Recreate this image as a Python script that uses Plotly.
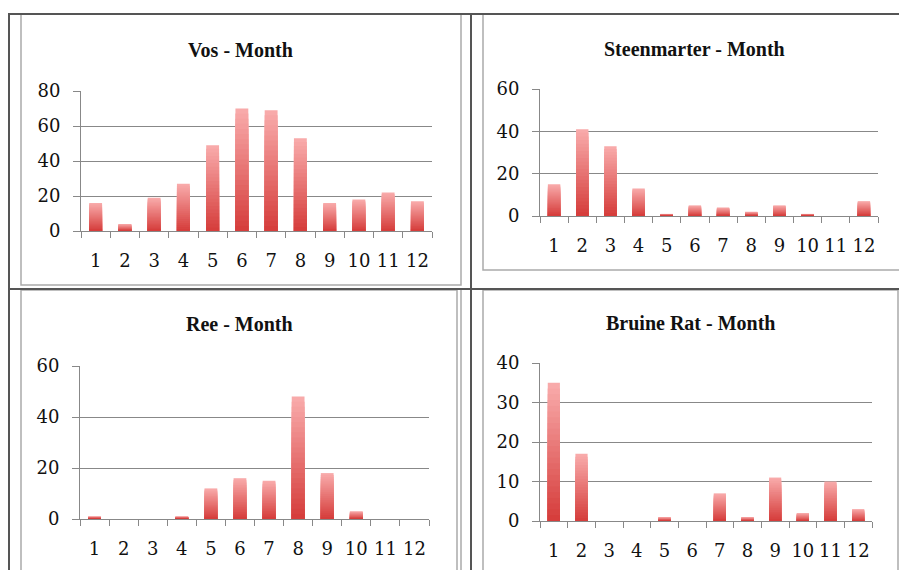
import plotly.graph_objects as go

months = [str(m) for m in range(1, 13)]

vos = [16, 4, 19, 27, 49, 70, 69, 53, 16, 18, 22, 17]
steenmarter = [15, 41, 33, 13, 1, 5, 4, 2, 5, 1, 0, 7]
ree = [1, 0, 0, 1, 12, 16, 15, 48, 18, 3, 0, 0]
bruine_rat = [35, 17, 0, 0, 1, 0, 7, 1, 11, 2, 10, 3]

titles = ["Vos - Month", "Steenmarter - Month", "Ree - Month", "Bruine Rat - Month"]
series = [vos, steenmarter, ree, bruine_rat]
y_max = [80, 60, 60, 40]
y_dtick = [20, 20, 20, 10]

W, H = 907, 570
OFF = 8  # page body margin

def fx(px):
    return (px - OFF) / W

def fy(py):
    return 1 - (py - OFF) / H

# plot areas in pixels: (left, right, top, bottom)
areas = [(81, 432, 91, 231), (540, 878, 89, 216), (80, 429, 366, 519), (540, 872, 363, 521)]
title_pos = [(240, 50), (694, 49), (239, 324), (690, 323)]

fig = go.Figure()

N = 24
light = (248, 170, 170)
dark = (214, 62, 60)

def col(t):
    r = round(light[0] + (dark[0] - light[0]) * t)
    g = round(light[1] + (dark[1] - light[1]) * t)
    b = round(light[2] + (dark[2] - light[2]) * t)
    return f"rgb({r},{g},{b})"

for i, (vals, ttl) in enumerate(zip(series, titles)):
    xa = "x" if i == 0 else f"x{i+1}"
    ya = "y" if i == 0 else f"y{i+1}"
    for k in range(N):
        frac = 1 - k / N
        fig.add_trace(go.Bar(
            x=months, y=[v * frac for v in vals], xaxis=xa, yaxis=ya,
            marker=dict(color=col(k / (N - 1)), line=dict(width=0)),
            hoverinfo="skip", showlegend=False,
        ))
    l, r, t, b = areas[i]
    axkey = "xaxis" if i == 0 else f"xaxis{i+1}"
    aykey = "yaxis" if i == 0 else f"yaxis{i+1}"
    fig.update_layout({
        axkey: dict(
            domain=[fx(l), fx(r)], anchor=ya, type="category", automargin=False,
            showgrid=False, showline=True, linecolor="#888888", linewidth=1,
            ticks="outside", tickson="boundaries", ticklen=6, tickcolor="#888888",
            tickangle=0,
            tickfont=dict(family="DejaVu Serif", size=18, color="#111"),
            ticklabelstandoff=13, fixedrange=True,
        ),
        aykey: dict(
            domain=[fy(b), fy(t)], anchor=xa, range=[0, y_max[i]], dtick=y_dtick[i],
            automargin=False,
            showgrid=True, gridcolor="#888888", gridwidth=1,
            showline=True, linecolor="#888888", linewidth=1, zeroline=False,
            ticks="outside", ticklen=7, tickcolor="#888888",
            tickfont=dict(family="DejaVu Serif", size=18, color="#111"),
            ticklabelstandoff=9, fixedrange=True,
        ),
    })
    tx, ty = title_pos[i]
    fig.add_annotation(x=fx(tx), y=fy(ty), xref="paper", yref="paper",
                       text=f"<b>{ttl}</b>", showarrow=False,
                       xanchor="center", yanchor="middle",
                       font=dict(family="Liberation Serif", size=20, color="#111"))

shapes = []
dark_line = dict(color="#555555", width=2)
light_line = dict(color="#aaaaaa", width=1.5)

def line(x0, y0, x1, y1, ln):
    shapes.append(dict(type="line", xref="paper", yref="paper",
                       x0=fx(x0), y0=fy(y0), x1=fx(x1), y1=fy(y1), line=ln))

def rect(x0, y0, x1, y1, ln):
    shapes.append(dict(type="rect", xref="paper", yref="paper",
                       x0=fx(x0), y0=fy(y0), x1=fx(x1), y1=fy(y1), line=ln,
                       fillcolor="rgba(0,0,0,0)", layer="below"))

rect(21, 14, 461, 285, light_line)
rect(483, 14, 906, 270, light_line)
rect(21, 290, 457, 590, light_line)
rect(483, 290, 898, 590, light_line)
line(461, 290, 461, 590, light_line)
line(8, 14, 920, 14, dark_line)
line(9, 14, 9, 590, dark_line)
line(8, 289, 920, 289, dark_line)
line(471, 14, 471, 590, dark_line)

fig.update_layout(
    width=W, height=H, margin=dict(l=0, r=0, t=0, b=0, autoexpand=False),
    paper_bgcolor="white", plot_bgcolor="rgba(0,0,0,0)",
    barmode="overlay", bargap=0.56, showlegend=False, shapes=shapes,
)

fig.write_html("out.html", config={"responsive": False})
